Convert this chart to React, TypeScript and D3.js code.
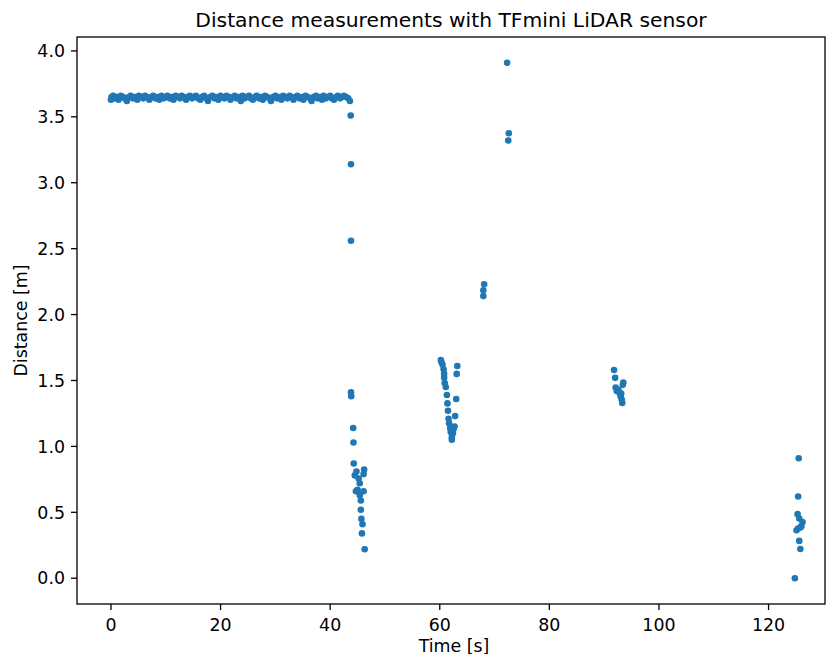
import React from "react";
import * as d3 from "d3";

const TITLE = "Distance measurements with TFmini LiDAR sensor";
const X_LABEL = "Time [s]";
const Y_LABEL = "Distance [m]";
const X_TICKS = [0, 20, 40, 60, 80, 100, 120];
const Y_TICKS = [0, 0.5, 1.0, 1.5, 2.0, 2.5, 3.0, 3.5, 4.0];

// Steady wall reading (time s, distance m)
const BAND: [number, number][] = [
  [0.0,3.63],[0.1,3.65],[0.4,3.66],[0.7,3.64],[1.1,3.65],[1.4,3.63],[1.8,3.66],[2.2,3.65],[2.5,3.64],[2.9,3.62],
  [3.3,3.65],[3.6,3.66],[4.0,3.64],[4.4,3.65],[4.8,3.63],[5.1,3.66],[5.5,3.65],[5.9,3.64],[6.2,3.66],[6.6,3.65],
  [7.0,3.63],[7.4,3.65],[7.7,3.66],[8.1,3.64],[8.5,3.65],[8.8,3.63],[9.2,3.66],[9.6,3.64],[10.0,3.65],[10.3,3.66],
  [10.7,3.64],[11.1,3.65],[11.4,3.63],[11.8,3.66],[12.2,3.65],[12.6,3.64],[12.9,3.66],[13.3,3.65],[13.7,3.63],[14.0,3.65],
  [14.4,3.66],[14.8,3.64],[15.2,3.65],[15.5,3.66],[15.9,3.64],[16.3,3.63],[16.6,3.65],[17.0,3.66],[17.4,3.64],[17.7,3.62],
  [18.1,3.65],[18.5,3.66],[18.9,3.64],[19.2,3.65],[19.6,3.63],[20.0,3.66],[20.3,3.65],[20.7,3.64],[21.1,3.66],[21.5,3.65],
  [21.8,3.63],[22.2,3.65],[22.6,3.66],[22.9,3.64],[23.3,3.65],[23.7,3.62],[24.0,3.66],[24.4,3.64],[24.8,3.65],[25.2,3.66],
  [25.5,3.64],[25.9,3.63],[26.3,3.65],[26.6,3.66],[27.0,3.64],[27.4,3.65],[27.7,3.63],[28.1,3.66],[28.5,3.65],[28.9,3.64],
  [29.2,3.62],[29.6,3.65],[30.0,3.66],[30.3,3.64],[30.7,3.65],[31.1,3.63],[31.4,3.66],[31.8,3.65],[32.2,3.64],[32.6,3.66],
  [32.9,3.65],[33.3,3.63],[33.7,3.65],[34.0,3.66],[34.4,3.64],[34.8,3.65],[35.1,3.63],[35.5,3.66],[35.9,3.65],[36.3,3.64],
  [36.6,3.62],[37.0,3.65],[37.4,3.66],[37.7,3.64],[38.1,3.65],[38.5,3.63],[38.8,3.66],[39.2,3.64],[39.6,3.65],[40.0,3.66],
  [40.3,3.64],[40.7,3.63],[41.1,3.65],[41.4,3.66],[41.8,3.64],[42.2,3.65],[42.5,3.66],[42.9,3.65],[43.3,3.64],[43.6,3.62],
];

// Drop-off around t = 44..46 s
const DROP: [number, number][] = [
  [43.75,3.51],[43.8,3.14],[43.8,2.56],[43.8,1.41],[43.85,1.38],[44.2,1.14],[44.25,1.03],[44.3,0.87],
  [44.5,0.78],[44.8,0.81],[46.2,0.825],[46.1,0.79],[45.2,0.757],[45.4,0.72],[45.0,0.67],[44.7,0.66],
  [46.1,0.66],[45.4,0.63],[45.6,0.59],[45.6,0.52],[45.7,0.45],[45.9,0.41],[45.8,0.34],[46.3,0.22],
];

// Approach around t = 60..63 s
const APPROACH: [number, number][] = [
  [60.2,1.655],[60.3,1.64],[60.5,1.62],[60.7,1.585],[60.8,1.55],[60.8,1.52],[60.9,1.48],[61.1,1.45],
  [61.3,1.39],[61.4,1.326],[61.5,1.27],[61.6,1.21],[61.7,1.175],[61.9,1.14],[62.0,1.11],[62.2,1.07],
  [62.2,1.05],[63.2,1.61],[63.1,1.55],[63.0,1.36],[62.8,1.23],[62.7,1.15],[62.5,1.13],[62.4,1.10],
];

// Isolated readings around t = 68 and 72 s
const ISOLATED: [number, number][] = [
  [68.1,2.23],[67.95,2.185],[67.95,2.14],[72.3,3.91],[72.6,3.375],[72.5,3.32],
];

// Cluster around t = 92..94 s
const CLUSTER_92: [number, number][] = [
  [91.8,1.58],[92.0,1.52],[93.5,1.485],[93.4,1.467],[92.1,1.447],[92.3,1.42],[92.8,1.406],
  [93.0,1.38],[93.2,1.356],[93.3,1.33],[92.6,1.43],[93.1,1.40],
];

// Cluster around t = 125 s
const CLUSTER_125: [number, number][] = [
  [125.5,0.91],[125.4,0.62],[125.3,0.486],[125.6,0.453],[126.2,0.427],[126.0,0.395],[125.4,0.377],
  [125.1,0.364],[125.8,0.385],[125.6,0.283],[125.8,0.222],[124.8,0.0],
];

const W = 826;
const H = 654;
const M = { left: 77, right: 825, top: 37, bottom: 604 };
const COLOR = "#1f77b4";
const FONT = "DejaVu Sans, sans-serif";

export default function App() {
  const all = [...BAND, ...DROP, ...APPROACH, ...ISOLATED, ...CLUSTER_92, ...CLUSTER_125];
  const x = d3.scaleLinear().domain([-6.2, 130.3]).range([M.left, M.right]);
  const y = d3.scaleLinear().domain([-0.1955, 4.1055]).range([M.bottom, M.top]);
  const tickLen = 6;
  const fs = 17.4;
  const sw = 1.3;
  return (
    <svg
      width={W}
      height={H}
      style={{ position: "absolute", left: 0, top: 0, background: "#fff" }}
      fontFamily={FONT}
    >
      <rect x={0} y={0} width={W} height={H} fill="#fff" />
      <g>
        {all.map((d, i) => (
          <circle key={i} cx={x(d[0])} cy={y(d[1])} r={3.3} fill={COLOR} />
        ))}
      </g>
      {/* spines */}
      <rect
        x={M.left}
        y={M.top}
        width={M.right - M.left}
        height={M.bottom - M.top}
        fill="none"
        stroke="#000"
        strokeWidth={sw}
      />
      {/* x ticks */}
      {X_TICKS.map((t) => (
        <g key={"x" + t}>
          <line x1={x(t)} x2={x(t)} y1={M.bottom} y2={M.bottom + tickLen} stroke="#000" strokeWidth={sw} />
          <text x={x(t)} y={M.bottom + 27} fontSize={fs} textAnchor="middle" fill="#000">
            {String(t)}
          </text>
        </g>
      ))}
      {/* y ticks */}
      {Y_TICKS.map((t) => (
        <g key={"y" + t}>
          <line x1={M.left - tickLen} x2={M.left} y1={y(t)} y2={y(t)} stroke="#000" strokeWidth={sw} />
          <text x={M.left - 12} y={y(t)} dy="0.36em" fontSize={fs} textAnchor="end" fill="#000">
            {t.toFixed(1)}
          </text>
        </g>
      ))}
      <text x={(M.left + M.right) / 2 + 3} y={M.bottom + 47.5} fontSize={fs} textAnchor="middle" fill="#000">
        {X_LABEL}
      </text>
      <text
        transform={`translate(27,${(M.top + M.bottom) / 2}) rotate(-90)`}
        fontSize={fs}
        textAnchor="middle"
        fill="#000"
      >
        {Y_LABEL}
      </text>
      <text x={(M.left + M.right) / 2} y={M.top - 10} fontSize={20.3} textAnchor="middle" fill="#000">
        {TITLE}
      </text>
    </svg>
  );
}
